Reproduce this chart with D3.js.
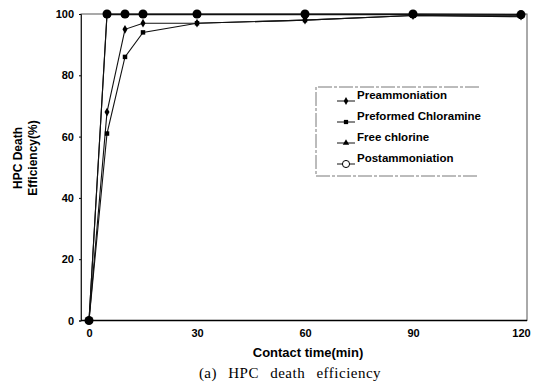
<!DOCTYPE html>
<html>
<head>
<meta charset="utf-8">
<script src="https://cdn.jsdelivr.net/npm/d3@7"></script>
<style>
  body { margin: 0; background: #fff; }
  svg { display: block; }
  .tick text { font-family: Arial, "Liberation Sans", sans-serif; font-weight: bold; font-size: 11px; fill: #000; }
</style>
</head>
<body>
<div id="chart"></div>
<script>
const times = [0, 5, 10, 15, 30, 60, 90, 120];
const seriesNames = ["Preammoniation", "Preformed Chloramine", "Free chlorine", "Postammoniation"];
const preammoniation = [0, 68, 95, 97, 97, 98, 99.5, 99.3];
const preformedChloramine = [0, 61, 86, 94, 97, 98, 99.5, 99.1];
const freeChlorine = [0, 99.8, 99.8, 99.8, 99.8, 99.8, 99.8, 99.6];
const postammoniation = [0, 100, 100, 100, 100, 100, 100, 99.8];
const xTicks = [0, 30, 60, 90, 120];
const yTicks = [0, 20, 40, 60, 80, 100];

const width = 535, height = 384;
const frame = { left: 81, right: 527, top: 14, bottom: 320.5 };

const svg = d3.select("#chart").append("svg")
  .attr("width", width)
  .attr("height", height);

const x = d3.scaleLinear().domain([0, 120]).range([89, 521]);
const y = d3.scaleLinear().domain([0, 100]).range([frame.bottom, frame.top]);

// plot frame
svg.append("rect")
  .attr("x", frame.left).attr("y", frame.top)
  .attr("width", frame.right - frame.left)
  .attr("height", frame.bottom - frame.top)
  .attr("fill", "none")
  .attr("stroke", "#555")
  .attr("stroke-width", 1);

// axes
const yAxis = svg.append("g")
  .attr("transform", `translate(${frame.left},0)`)
  .call(d3.axisLeft(y).tickValues(yTicks).tickSize(2).tickPadding(5));
yAxis.select(".domain").attr("stroke", "#222");

const xAxis = svg.append("g")
  .attr("transform", `translate(0,${frame.bottom})`)
  .call(d3.axisBottom(x).tickValues(xTicks).tickSize(0).tickPadding(9));
xAxis.select(".domain").remove();

svg.append("line")
  .attr("x1", frame.left).attr("x2", frame.right)
  .attr("y1", frame.bottom).attr("y2", frame.bottom)
  .attr("stroke", "#000").attr("stroke-width", 1.5);

// titles
svg.append("text")
  .attr("x", 308).attr("y", 357)
  .attr("text-anchor", "middle")
  .style("font-family", "Arial, 'Liberation Sans', sans-serif")
  .style("font-weight", "bold").style("font-size", "13px")
  .text("Contact time(min)");

svg.append("text")
  .attr("x", 290).attr("y", 378)
  .attr("text-anchor", "middle")
  .style("font-family", "'Liberation Serif', 'DejaVu Serif', serif")
  .style("font-size", "15px")
  .style("letter-spacing", "0.5px")
  .style("word-spacing", "7px")
  .text("(a) HPC death efficiency");

const yTitle = svg.append("text")
  .attr("transform", "translate(26,158) rotate(-90)")
  .attr("text-anchor", "middle")
  .style("font-family", "Arial, 'Liberation Sans', sans-serif")
  .style("font-weight", "bold").style("font-size", "12px");
yTitle.append("tspan").attr("x", 0).attr("dy", "-0.35em").text("HPC Death");
yTitle.append("tspan").attr("x", 0).attr("dy", "1.3em").text("Efficiency(%)");

// series
const series = [
  { name: seriesNames[0], values: preammoniation, symbol: d3.symbolDiamond, size: 22 },
  { name: seriesNames[1], values: preformedChloramine, symbol: d3.symbolSquare, size: 20 },
  { name: seriesNames[2], values: freeChlorine, symbol: d3.symbolTriangle, size: 26 },
  { name: seriesNames[3], values: postammoniation, symbol: d3.symbolCircle, size: 64 }
];

const line = d3.line()
  .x((d, i) => x(times[i]))
  .y(d => y(d));

series.forEach(s => {
  svg.append("path")
    .datum(s.values)
    .attr("fill", "none")
    .attr("stroke", "#111")
    .attr("stroke-width", 1.1)
    .attr("d", line);
});

series.forEach(s => {
  svg.append("g").selectAll("path")
    .data(s.values)
    .join("path")
    .attr("transform", (d, i) => `translate(${x(times[i])},${y(d)})`)
    .attr("d", d3.symbol().type(s.symbol).size(s.size))
    .attr("fill", "#000");
});

// legend
const legend = svg.append("g").attr("transform", "translate(316,87)");
legend.append("path")
  .attr("d", "M163,0 H0 V89 H163")
  .attr("fill", "none")
  .attr("stroke", "#555")
  .attr("stroke-width", 0.8)
  .attr("stroke-dasharray", "14,2,3,2");

series.forEach((s, i) => {
  const gy = 12 + i * 21;
  const item = legend.append("g").attr("transform", `translate(0,${gy})`);
  item.append("line")
    .attr("x1", 21).attr("x2", 39)
    .attr("y1", 2).attr("y2", 2)
    .attr("stroke", "#111").attr("stroke-width", 1);
  item.append("path")
    .attr("transform", "translate(30,2)")
    .attr("d", d3.symbol().type(s.symbol).size(i === 3 ? 40 : 18))
    .attr("fill", i === 3 ? "#fff" : "#000")
    .attr("stroke", i === 3 ? "#000" : "none")
    .attr("stroke-width", 1);
  item.append("text")
    .attr("x", 41).attr("y", 0)
    .style("font-family", "Arial, 'Liberation Sans', sans-serif")
    .style("font-weight", "bold").style("font-size", "11.5px")
    .text(s.name);
});
</script>
</body>
</html>
